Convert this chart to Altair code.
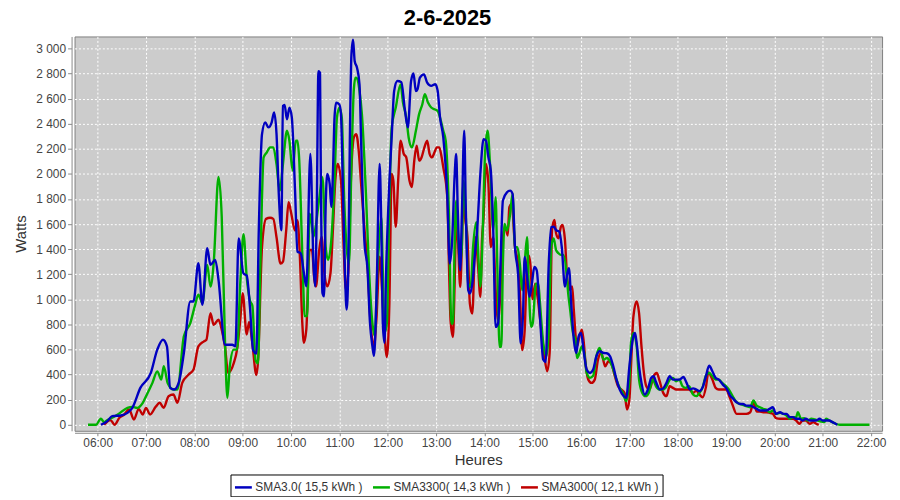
import altair as alt
import pandas as pd

series_names = ["SMA3.0( 15,5 kWh )", "SMA3300( 14,3 kWh )", "SMA3000( 12,1 kWh )"]
series_colors = ["#0000c0", "#00b000", "#c00000"]

blue_t = ["06:04","06:12","06:18","06:29","06:37","06:43","06:53","07:06","07:14","07:21","07:26","07:30","07:35","07:41","07:47","07:55","07:59","08:05","08:10","08:16","08:20","08:26","08:30","08:38","08:47","08:51","08:55","09:01","09:05","09:09","09:13","09:17","09:20","09:24","09:28","09:32","09:36","09:39","09:42","09:45","09:48","09:50","09:52","09:55","09:58","10:01","10:05","10:08","10:12","10:16","10:19","10:24","10:28","10:30","10:32","10:34","10:36","10:37","10:39","10:41","10:43","10:45","10:48","10:50","10:52","10:54","10:56","11:00","11:02","11:04","11:07","11:09","11:11","11:13","11:15","11:17","11:19","11:22","11:25","11:27","11:31","11:35","11:38","11:41","11:43","11:46","11:50","11:52","11:54","11:56","11:58","12:02","12:05","12:08","12:12","12:17","12:21","12:25","12:29","12:32","12:35","12:37","12:40","12:45","12:49","12:54","12:59","13:02","13:05","13:09","13:14","13:17","13:20","13:23","13:25","13:27","13:30","13:32","13:35","13:37","13:40","13:42","13:46","13:48","13:51","13:55","13:59","14:02","14:05","14:08","14:11","14:14","14:17","14:20","14:23","14:28","14:32","14:35","14:38","14:42","14:45","14:48","14:50","14:53","14:56","14:59","15:02","15:05","15:09","15:13","15:16","15:20","15:23","15:26","15:29","15:33","15:36","15:40","15:43","15:45","15:48","15:51","15:54","15:57","16:00","16:03","16:07","16:11","16:15","16:19","16:23","16:28","16:32","16:36","16:40","16:44","16:48","16:53","16:56","17:00","17:05","17:07","17:09","17:12","17:15","17:19","17:23","17:27","17:30","17:33","17:38","17:42","17:46","17:50","17:54","17:58","18:02","18:07","18:11","18:15","18:19","18:23","18:27","18:31","18:35","18:39","18:43","18:47","18:51","18:56","19:01","19:05","19:09","19:13","19:17","19:21","19:25","19:30","19:34","19:38","19:42","19:46","19:50","19:54","19:58","20:02","20:07","20:11","20:15","20:19","20:23","20:27","20:31","20:35","20:39","20:44","20:48","20:52","20:56","21:00","21:04","21:08","21:12","21:16","21:18"]
blue_w = [0,29,69,74,95,135,294,413,599,678,625,294,281,344,572,983,983,1287,956,1407,1274,1314,1155,638,638,625,1486,1205,1190,940,594,567,1550,2317,2410,2370,2410,2490,2320,1815,1550,2541,2550,2435,2528,2450,1868,1380,1367,1209,1103,2158,1261,1103,1736,2818,2805,1999,1050,1024,1736,1999,1920,1736,1999,2448,2567,2553,2475,1999,1209,918,1209,2264,2950,3070,2900,2844,2712,2264,1472,1235,813,628,549,1000,2079,1600,800,654,1209,1920,2300,2659,2740,2730,2528,2370,2738,2800,2659,2674,2767,2793,2727,2701,2714,2662,2449,2290,1813,1284,1469,1973,2158,1707,1231,1654,2343,1707,1072,1046,1178,1337,1548,1999,2277,2264,2131,2026,1548,780,807,1284,1787,1853,1866,1840,1416,1178,649,886,1337,1178,1019,1125,1257,1231,860,520,500,1300,1575,1579,1552,1539,1420,1102,1208,1248,943,678,572,705,731,600,440,413,440,546,586,572,570,546,466,360,281,228,214,466,705,731,652,466,334,241,281,374,387,340,281,290,334,387,360,360,360,381,334,281,290,281,268,300,387,470,427,374,360,320,285,232,206,180,166,166,153,153,140,127,114,114,114,127,140,87,100,87,87,61,61,48,48,34,48,34,34,34,48,34,34,34,21,8,0]

green_t = ["05:48","05:58","06:04","06:08","06:12","06:18","06:25","06:37","06:43","06:49","06:56","07:02","07:08","07:14","07:19","07:22","07:27","07:34","07:39","07:47","07:55","08:01","08:05","08:10","08:16","08:20","08:24","08:30","08:34","08:38","08:41","08:44","08:49","08:53","08:57","09:01","09:05","09:09","09:12","09:16","09:19","09:22","09:26","09:30","09:34","09:38","09:42","09:46","09:50","09:55","09:58","10:02","10:06","10:08","10:10","10:14","10:17","10:20","10:23","10:25","10:28","10:31","10:35","10:39","10:43","10:46","10:50","10:54","10:57","11:00","11:03","11:06","11:09","11:12","11:15","11:18","11:20","11:22","11:25","11:28","11:33","11:37","11:41","11:44","11:47","11:50","11:52","11:54","11:56","11:59","12:02","12:05","12:10","12:16","12:19","12:23","12:26","12:30","12:35","12:39","12:43","12:46","12:50","12:54","12:58","13:02","13:06","13:09","13:12","13:16","13:19","13:21","13:23","13:25","13:27","13:30","13:32","13:34","13:37","13:40","13:43","13:46","13:50","13:53","13:55","13:58","14:01","14:04","14:07","14:11","14:14","14:16","14:19","14:21","14:23","14:25","14:28","14:32","14:35","14:38","14:41","14:44","14:47","14:50","14:53","14:55","14:58","15:00","15:04","15:07","15:09","15:13","15:17","15:20","15:23","15:26","15:29","15:32","15:35","15:38","15:42","15:44","15:46","15:50","15:53","15:55","15:58","16:01","16:04","16:07","16:11","16:15","16:19","16:23","16:28","16:32","16:36","16:40","16:44","16:48","16:52","16:56","17:00","17:02","17:05","17:09","17:12","17:16","17:20","17:24","17:29","17:33","17:37","17:42","17:46","17:50","17:54","17:58","18:02","18:06","18:10","18:14","18:19","18:23","18:27","18:31","18:35","18:39","18:43","18:47","18:51","18:55","19:00","19:03","19:09","19:13","19:17","19:23","19:30","19:34","19:38","19:42","19:46","19:50","19:54","19:58","20:02","20:07","20:11","20:15","20:19","20:23","20:27","20:29","20:33","20:37","20:41","20:46","20:50","20:54","20:58","21:02","21:04","21:08","21:12","21:16","21:21","21:58"]
green_w = [0,0,48,21,37,56,82,135,143,135,175,254,334,426,360,466,330,281,281,705,811,956,1036,970,1274,1102,1287,1976,1658,678,215,466,599,599,1128,1520,1177,992,950,515,489,1284,2131,2171,2211,2211,2078,1866,2078,2343,2264,2026,2264,2264,2132,1367,866,866,1683,1630,1499,1600,1800,1973,1420,1315,1472,1947,2448,2527,2450,1800,1416,1284,2078,2674,2767,2760,2662,2475,1841,1209,813,707,1209,1499,1657,1209,733,813,1736,2370,2528,2712,2568,2450,2290,2211,2343,2476,2555,2635,2568,2529,2515,2502,2423,2343,2264,1681,807,807,1416,1787,1548,1284,1420,1946,1654,1125,1099,1420,1615,1284,1099,1548,2184,2343,2078,1548,1813,1284,621,621,1284,1601,1548,1681,1840,1416,1416,1284,1072,1284,1495,1125,780,807,1125,1125,970,652,546,758,1420,1486,1393,1367,1354,1354,1208,1049,943,731,678,532,572,625,572,413,374,390,546,612,519,532,506,440,360,294,254,188,360,652,731,625,360,254,228,254,360,307,281,281,307,360,374,347,360,307,294,307,241,228,254,300,391,413,387,360,360,334,307,285,219,180,166,153,140,193,153,140,127,121,100,114,87,95,87,74,48,61,61,100,48,53,34,48,42,34,26,21,48,34,21,8,0,0]

red_t = ["06:08","06:16","06:21","06:27","06:33","06:39","06:45","06:51","06:56","07:00","07:05","07:12","07:17","07:22","07:28","07:34","07:39","07:45","07:53","07:59","08:05","08:12","08:15","08:20","08:24","08:30","08:34","08:38","08:42","08:49","08:53","08:57","09:00","09:05","09:08","09:12","09:17","09:19","09:24","09:29","09:34","09:38","09:42","09:47","09:50","09:54","09:57","10:00","10:05","10:08","10:11","10:14","10:16","10:19","10:23","10:26","10:29","10:31","10:35","10:38","10:41","10:45","10:49","10:52","10:55","10:58","11:02","11:05","11:08","11:11","11:14","11:18","11:21","11:24","11:27","11:31","11:35","11:39","11:43","11:46","11:50","11:53","11:56","11:59","12:02","12:05","12:07","12:10","12:13","12:16","12:20","12:23","12:27","12:30","12:33","12:36","12:39","12:42","12:45","12:49","12:52","12:55","12:58","13:01","13:04","13:07","13:09","13:14","13:16","13:18","13:21","13:23","13:25","13:27","13:30","13:32","13:34","13:36","13:39","13:42","13:45","13:49","13:52","13:55","13:57","13:59","14:02","14:05","14:08","14:11","14:14","14:17","14:20","14:23","14:26","14:29","14:31","14:34","14:38","14:42","14:44","14:47","14:50","14:53","14:55","14:57","15:00","15:03","15:06","15:09","15:14","15:18","15:21","15:24","15:27","15:29","15:32","15:35","15:37","15:40","15:43","15:46","15:49","15:51","15:55","15:58","16:01","16:03","16:06","16:09","16:13","16:17","16:21","16:25","16:30","16:34","16:38","16:42","16:46","16:50","16:54","16:57","17:00","17:02","17:05","17:09","17:12","17:15","17:18","17:21","17:25","17:30","17:34","17:37","17:42","17:46","17:50","17:54","17:58","18:06","18:14","18:19","18:23","18:27","18:31","18:35","18:38","18:43","18:47","18:51","18:55","19:00","19:04","19:08","19:13","19:17","19:21","19:25","19:30","19:34","19:38","19:42","19:46","19:50","19:54","19:58","20:02","20:07","20:11","20:15","20:19","20:23","20:27","20:31","20:35","20:39","20:44","20:48","20:52","20:55"]
red_w = [0,37,0,56,82,122,42,127,82,135,82,143,175,135,228,241,175,334,400,440,625,665,678,890,797,837,758,625,413,493,599,837,1049,720,820,650,396,500,1416,1641,1650,1641,1495,1284,1300,1548,1774,1694,1548,1631,1340,812,654,760,1393,1393,1156,1103,1393,1499,1235,1103,1209,1552,1947,2079,1947,1472,1077,1209,1894,2290,2317,2185,1920,1578,1261,786,628,839,1340,1077,733,540,945,2000,1947,1578,1947,2264,2158,2132,1947,1894,2106,2224,2105,2130,2198,2264,2160,2131,2170,2211,2211,2131,2052,1813,1284,833,700,1100,1601,1495,1099,1416,1866,1654,1495,966,886,1495,1284,1019,1469,1654,2078,1919,1416,1495,1072,833,1072,1495,1575,1509,1734,1760,1416,1284,1072,595,750,1284,1350,1284,1000,1125,1019,850,572,427,572,1552,1632,1526,1486,1579,1592,1473,1155,1075,1102,916,625,705,758,678,466,360,334,360,519,572,466,506,480,387,307,281,254,122,201,466,864,983,890,625,413,307,281,387,413,360,254,228,307,294,281,281,281,254,272,240,219,300,417,360,294,281,281,281,228,160,87,87,87,87,100,180,106,106,100,100,95,87,53,48,48,48,48,48,34,8,34,34,8,21,8,0]


def to_hours(s):
    h, m = s.split(":")
    return int(h) + int(m) / 60.0


rows = []
for name, ts, ws in [(series_names[0], blue_t, blue_w),
                     (series_names[1], green_t, green_w),
                     (series_names[2], red_t, red_w)]:
    for t, w in zip(ts, ws):
        rows.append({"h": to_hours(t), "w": w, "s": name})
df = pd.DataFrame(rows)

FONT = "Liberation Sans"

x_enc = alt.X(
    "h:Q",
    scale=alt.Scale(domain=[5.522, 22.227], nice=False, zero=False),
    axis=alt.Axis(
        values=list(range(6, 23)),
        labelExpr="(datum.value < 10 ? '0' : '') + datum.value + ':00'",
        title="Heures",
        grid=True, gridColor="white", gridDash=[2, 2], gridWidth=1,
        offset=2, tickSize=3, labelPadding=2, titlePadding=4,
    ),
)
y_enc = alt.Y(
    "w:Q",
    scale=alt.Scale(domain=[-48, 3095], nice=False, zero=False),
    axis=alt.Axis(
        values=list(range(0, 3001, 200)),
        labelExpr="replace(format(datum.value, ','), ',', ' ')",
        title="Watts",
        grid=True, gridColor="white", gridDash=[2, 2], gridWidth=1,
        offset=3, tickSize=4, labelPadding=2, titlePadding=7,
    ),
)
color_enc = alt.Color(
    "s:N",
    scale=alt.Scale(domain=series_names, range=series_colors),
    legend=alt.Legend(
        title=None, orient="none", legendX=157, legendY=441,
        direction="horizontal", columns=3,
        symbolType="stroke", symbolSize=289, symbolStrokeWidth=2.5,
        labelFont=FONT, labelFontSize=12, labelColor="#333333",
        labelOffset=2, columnPadding=4, padding=3,
        strokeColor="black", fillColor="white", cornerRadius=0,
    ),
)

base = alt.Chart(df)
layers = []
for name in reversed(series_names):
    layers.append(
        base.transform_filter(alt.datum.s == name)
        .mark_line(interpolate="monotone", strokeWidth=2.4, clip=True)
        .encode(x=x_enc, y=y_enc, color=color_enc)
    )

chart = (
    alt.layer(*layers)
    .properties(
        width=813, height=397,
        autosize=alt.AutoSizeParams(type="none"),
        padding={"left": 67, "top": 27, "right": 10, "bottom": 65},
        title=alt.TitleParams("2-6-2025", font=FONT, fontSize=22, fontWeight="bold",
                              color="black", anchor="middle", dx=-31, offset=7),
    )
    .configure_view(fill="#cccccc", stroke="#7f7f7f", strokeWidth=1)
    .configure_axis(
        labelFont=FONT, labelFontSize=12, labelColor="#444444",
        titleFont=FONT, titleFontSize=15, titleFontWeight="normal", titleColor="#333333",
        domainColor="#888888", tickColor="#888888",
    )
)

chart.save("out.html", embed_options={"renderer": "svg", "actions": False})
